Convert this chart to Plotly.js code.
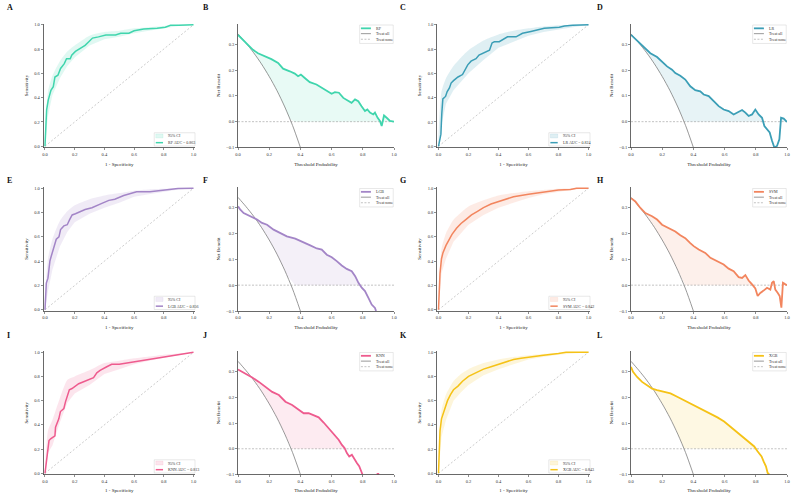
<!DOCTYPE html>
<html><head><meta charset="utf-8">
<script src="https://cdn.plot.ly/plotly-3.0.1.min.js"></script>
<style>html,body{margin:0;padding:0;background:#fff;}#chart{width:794px;height:493px;}</style>
</head><body><div id="chart"></div>
<script>
// ---------- data ----------
const modelNames = ['RF','LR','LGB','SVM','KNN','XGB'];
const aucValues = ['0.863','0.824','0.856','0.842','0.813','0.843'];
const panelLetters = ['A','B','C','D','E','F','G','H','I','J','K','L'];
const modelColors = ['#40D5AD','#3B9EB6','#A385C7','#F2855E','#EE5B8E','#F5C216'];

// ROC curves
const rfFpr = [0,0.004,0.011,0.022,0.03,0.04,0.056,0.06,0.067,0.087,0.105,0.13,0.145,0.17,0.18,0.205,0.24,0.27,0.295,0.32,0.36,0.41,0.475,0.51,0.565,0.6,0.665,0.755,0.81,0.845,0.9,1];
const rfTpr = [0,0.10,0.30,0.38,0.41,0.46,0.49,0.54,0.57,0.585,0.64,0.68,0.72,0.72,0.75,0.78,0.81,0.83,0.86,0.89,0.90,0.915,0.915,0.93,0.93,0.95,0.965,0.97,0.98,0.995,0.995,1];
const lrFpr = [0,0.007,0.016,0.022,0.029,0.047,0.058,0.073,0.084,0.1,0.13,0.16,0.18,0.195,0.217,0.25,0.27,0.306,0.34,0.357,0.372,0.405,0.43,0.46,0.517,0.56,0.616,0.67,0.705,0.805,0.84,0.894,1];
const lrTpr = [0,0.05,0.10,0.27,0.39,0.41,0.45,0.48,0.52,0.54,0.57,0.59,0.63,0.67,0.70,0.72,0.75,0.77,0.79,0.85,0.86,0.86,0.88,0.90,0.90,0.93,0.945,0.96,0.97,0.98,0.99,0.995,1];
const lgbFpr = [0,0.004,0.009,0.02,0.027,0.033,0.042,0.053,0.065,0.076,0.094,0.105,0.127,0.15,0.165,0.183,0.205,0.24,0.27,0.316,0.35,0.383,0.43,0.47,0.53,0.58,0.617,0.706,0.817,0.895,1];
const lgbTpr = [0,0.12,0.22,0.26,0.34,0.40,0.44,0.49,0.53,0.58,0.60,0.66,0.69,0.70,0.74,0.78,0.79,0.81,0.825,0.84,0.855,0.875,0.90,0.91,0.94,0.96,0.97,0.97,0.985,0.997,1];
const svmFpr = [0,0.005,0.01,0.02,0.03,0.05,0.07,0.09,0.12,0.15,0.18,0.22,0.26,0.3,0.35,0.4,0.45,0.5,0.6,0.7,0.8,0.88,0.92,1];
const svmTpr = [0,0.15,0.30,0.42,0.47,0.53,0.58,0.62,0.67,0.71,0.74,0.78,0.81,0.84,0.87,0.89,0.91,0.93,0.95,0.97,0.985,0.99,1,1];
const knnFpr = [0,0.027,0.038,0.056,0.067,0.071,0.082,0.093,0.104,0.127,0.138,0.149,0.164,0.182,0.204,0.227,0.26,0.304,0.327,0.349,0.371,0.416,0.449,0.5,1];
const knnTpr = [0,0.27,0.285,0.30,0.31,0.38,0.41,0.45,0.51,0.535,0.59,0.63,0.69,0.70,0.72,0.74,0.756,0.775,0.79,0.83,0.85,0.88,0.90,0.90,1];
const xgbFpr = [0,0.005,0.01,0.02,0.04,0.06,0.08,0.1,0.13,0.16,0.2,0.25,0.3,0.35,0.4,0.45,0.5,0.55,0.6,0.7,0.8,0.85,1];
const xgbTpr = [0,0.2,0.35,0.45,0.53,0.6,0.65,0.69,0.72,0.76,0.8,0.83,0.86,0.88,0.9,0.92,0.94,0.95,0.96,0.975,0.99,1,1];

// 95% CI bands (on a common FPR grid)
const ciFpr = [0,0.02,0.05,0.1,0.15,0.2,0.3,0.4,0.5,0.6,0.7,0.8,0.9,1.0];
const rfCiLow  = [0,0.25,0.42,0.56,0.66,0.73,0.83,0.88,0.90,0.93,0.95,0.97,0.99,1];
const rfCiHigh = [0.1,0.45,0.58,0.70,0.78,0.83,0.91,0.94,0.95,0.97,0.98,0.99,1,1];
const lrCiLow  = [0,0.18,0.35,0.46,0.53,0.60,0.71,0.81,0.86,0.91,0.94,0.96,0.98,1];
const lrCiHigh = [0.1,0.45,0.56,0.66,0.73,0.79,0.87,0.92,0.95,0.97,0.985,0.995,1,1];
const lgbCiLow  = [0,0.15,0.33,0.52,0.64,0.72,0.79,0.84,0.88,0.93,0.95,0.97,0.99,1];
const lgbCiHigh = [0.1,0.42,0.58,0.73,0.81,0.86,0.91,0.94,0.96,0.98,0.99,0.995,1,1];
const svmCiLow  = [0,0.3,0.42,0.56,0.63,0.70,0.78,0.84,0.88,0.92,0.95,0.97,0.99,1];
const svmCiHigh = [0.1,0.5,0.63,0.74,0.80,0.85,0.90,0.94,0.96,0.975,0.985,0.995,1,1];
const knnCiLow  = [0,0.17,0.23,0.42,0.58,0.66,0.73,0.82,0.86,0.90,0.93,0.955,0.98,1];
const knnCiHigh = [0.05,0.35,0.44,0.62,0.77,0.80,0.85,0.91,0.93,0.95,0.965,0.98,0.99,1];
const xgbCiLow  = [0,0.3,0.44,0.6,0.67,0.73,0.81,0.86,0.9,0.94,0.96,0.98,0.99,1];
const xgbCiHigh = [0.1,0.52,0.65,0.76,0.82,0.86,0.91,0.94,0.96,0.975,0.985,0.995,1,1];

// Decision curves
const rfThr = [0,0.021,0.054,0.096,0.128,0.171,0.214,0.257,0.289,0.332,0.364,0.385,0.403,0.428,0.46,0.503,0.535,0.567,0.6,0.621,0.647,0.675,0.707,0.728,0.75,0.771,0.792,0.814,0.829,0.846,0.867,0.878,0.895,0.91,0.921,0.936,0.953,0.974,1];
const rfNb  = [0.336,0.323,0.304,0.278,0.265,0.255,0.242,0.227,0.205,0.195,0.186,0.176,0.182,0.169,0.153,0.144,0.131,0.118,0.108,0.114,0.112,0.092,0.079,0.073,0.086,0.079,0.060,0.041,0.047,0.035,0.028,0.035,0.015,0.003,-0.017,0.024,0.015,0.003,0];
const lrThr = [0,0.038,0.081,0.124,0.167,0.199,0.231,0.263,0.284,0.316,0.348,0.38,0.412,0.444,0.466,0.498,0.53,0.562,0.594,0.626,0.658,0.69,0.712,0.733,0.754,0.776,0.797,0.818,0.84,0.855,0.872,0.889,0.904,0.919,0.936,0.951,0.962,0.979,1];
const lrNb  = [0.336,0.314,0.291,0.265,0.25,0.233,0.214,0.201,0.188,0.178,0.163,0.137,0.122,0.117,0.105,0.099,0.079,0.06,0.047,0.041,0.028,0.037,0.045,0.035,0.022,0.028,0.047,0.028,0.015,-0.017,-0.032,-0.042,-0.074,-0.1,-0.094,-0.068,0.015,0.012,-0.001];
const lgbThr = [0,0.015,0.036,0.079,0.122,0.154,0.186,0.228,0.271,0.313,0.367,0.42,0.463,0.505,0.537,0.569,0.601,0.633,0.665,0.697,0.729,0.751,0.772,0.793,0.814,0.836,0.857,0.878,0.885];
const lgbNb  = [0.305,0.292,0.279,0.267,0.254,0.241,0.234,0.215,0.202,0.189,0.18,0.167,0.154,0.142,0.138,0.118,0.108,0.093,0.076,0.063,0.054,0.035,0.009,-0.01,-0.023,-0.049,-0.075,-0.088,-0.1];
const svmThr = [0,0.028,0.06,0.092,0.135,0.167,0.199,0.241,0.284,0.316,0.348,0.38,0.402,0.434,0.476,0.509,0.551,0.594,0.626,0.658,0.69,0.712,0.733,0.754,0.776,0.797,0.812,0.829,0.85,0.872,0.893,0.904,0.915,0.925,0.94,0.953,0.964,0.974,0.985,1];
const svmNb  = [0.337,0.324,0.299,0.279,0.267,0.254,0.234,0.221,0.208,0.193,0.182,0.163,0.151,0.138,0.125,0.106,0.093,0.08,0.064,0.054,0.031,0.028,0.039,0.018,0.003,-0.013,-0.042,-0.03,-0.021,-0.01,-0.017,0.009,0.015,-0.017,-0.029,-0.042,-0.087,0.009,0.005,0];
const knnThr = [0,0.049,0.091,0.134,0.177,0.219,0.262,0.304,0.347,0.389,0.421,0.453,0.485,0.517,0.549,0.581,0.613,0.645,0.666,0.683,0.698,0.713,0.73,0.747,0.762,0.777,0.787,0.798,null,0.889,0.905];
const knnNb  = [0.308,0.292,0.277,0.26,0.241,0.221,0.209,0.183,0.17,0.151,0.138,0.138,0.129,0.122,0.102,0.08,0.054,0.035,0.015,0.003,-0.017,-0.03,-0.023,-0.042,-0.055,-0.068,-0.088,-0.1,null,-0.098,-0.098];
const xgbThr = [0,0.013,0.039,0.071,0.103,0.135,0.167,0.21,0.253,0.296,0.339,0.382,0.425,0.468,0.511,0.554,0.597,0.629,0.661,0.693,0.725,0.758,0.79,0.811,0.837,0.85,0.865,0.876,0.886];
const xgbNb  = [0.318,0.299,0.279,0.26,0.247,0.234,0.228,0.221,0.215,0.202,0.189,0.176,0.163,0.151,0.138,0.122,0.106,0.09,0.073,0.057,0.041,0.026,0.009,-0.01,-0.03,-0.049,-0.068,-0.094,-0.1];

// Reference strategies
const treatAllThr = [0,0.05,0.1,0.15,0.2,0.25,0.3,0.35,0.4];
const treatAllNb  = [0.34,0.305,0.267,0.224,0.175,0.12,0.057,-0.015,-0.1];
const treatNoneThr = [0,1];
const treatNoneNb  = [0,0];
const chanceX = [0,1];
const chanceY = [0,1];

const rocTicks = [0,0.2,0.4,0.6,0.8,1.0];
const dcaXTicks = [0,0.2,0.4,0.6,0.8,1.0];
const dcaYTicks = [-0.1,0,0.1,0.2,0.3];

// ---------- build ----------
const models = [
  {fpr:rfFpr,tpr:rfTpr,lo:rfCiLow,hi:rfCiHigh,thr:rfThr,nb:rfNb},
  {fpr:lrFpr,tpr:lrTpr,lo:lrCiLow,hi:lrCiHigh,thr:lrThr,nb:lrNb},
  {fpr:lgbFpr,tpr:lgbTpr,lo:lgbCiLow,hi:lgbCiHigh,thr:lgbThr,nb:lgbNb},
  {fpr:svmFpr,tpr:svmTpr,lo:svmCiLow,hi:svmCiHigh,thr:svmThr,nb:svmNb},
  {fpr:knnFpr,tpr:knnTpr,lo:knnCiLow,hi:knnCiHigh,thr:knnThr,nb:knnNb},
  {fpr:xgbFpr,tpr:xgbTpr,lo:xgbCiLow,hi:xgbCiHigh,thr:xgbThr,nb:xgbNb}
];

const W = 794, H = 493;
const colPx = [[43.5,195],[238,394],[437,590],[631,787]];
const rowPx = [[23.5,147.5],[187,311],[351,474.5]];
const letterX = [5,200.5,397.5,595];
const letterY = [7,180,335.5];
const serif = 'Liberation Serif, Times New Roman, serif';

function rgba(hex,a){const n=parseInt(hex.slice(1),16);return 'rgba('+((n>>16)&255)+','+((n>>8)&255)+','+(n&255)+','+a+')';}
function interpTreatAll(t){
  if(t>=treatAllThr[treatAllThr.length-1]) return treatAllNb[treatAllNb.length-1];
  for(let k=0;k<treatAllThr.length-1;k++){
    if(t>=treatAllThr[k] && t<=treatAllThr[k+1]){
      const f=(t-treatAllThr[k])/(treatAllThr[k+1]-treatAllThr[k]);
      return treatAllNb[k]+f*(treatAllNb[k+1]-treatAllNb[k]);
    }
  }
  return treatAllNb[0];
}

const layout = {width:W,height:H,margin:{l:0,r:0,t:0,b:0},paper_bgcolor:'#ffffff',plot_bgcolor:'rgba(0,0,0,0)',
  showlegend:false,shapes:[],annotations:[],font:{family:serif}};
const traces = [];

function axisBase(){
  return {showline:true,linecolor:'#444',linewidth:0.8,ticks:'outside',ticklen:2,tickwidth:0.6,tickcolor:'#444',
    showgrid:false,zeroline:false,fixedrange:true,tickformat:'.1f',
    tickfont:{family:serif,size:4.5,color:'#333'}};
}
function refs(n){return {x:n===1?'x':'x'+n, y:n===1?'y':'y'+n};}

function addLegend(n, box, swX, textX, items){
  const r = refs(n);
  const xr = r.x+' domain', yr = r.y+' domain';
  layout.shapes.push({type:'rect',xref:xr,yref:yr,x0:box[0],x1:box[1],y0:box[2],y1:box[3],
    fillcolor:'rgba(255,255,255,0.9)',line:{color:'#d0d0d0',width:0.5},layer:'above'});
  items.forEach(it=>{
    if(it.type==='fill'){
      layout.shapes.push({type:'rect',xref:xr,yref:yr,x0:swX[0],x1:swX[1],y0:it.y-0.016,y1:it.y+0.016,
        fillcolor:it.color,line:{color:it.edge,width:0.4},layer:'above'});
    } else {
      layout.shapes.push({type:'line',xref:xr,yref:yr,x0:swX[0],x1:swX[1],y0:it.y,y1:it.y,
        line:{color:it.color,width:it.width,dash:it.dash||'solid'},layer:'above'});
    }
    layout.annotations.push({xref:xr,yref:yr,x:textX,y:it.y,text:it.text,showarrow:false,xanchor:'left',yanchor:'middle',
      font:{family:serif,size:4,color:'#333'}});
  });
}

models.forEach((m,i)=>{
  const row=Math.floor(i/2), side=i%2;
  const color = modelColors[i];
  const rocN = 2*i+1, dcaN = 2*i+2;
  const rocCol = side*2, dcaCol = side*2+1;
  const yDom = [1-rowPx[row][1]/H, 1-rowPx[row][0]/H];

  // ROC axes
  const rR = refs(rocN);
  const rx = axisBase(), ry = axisBase();
  rx.domain=[colPx[rocCol][0]/W, colPx[rocCol][1]/W]; rx.anchor=rR.y; rx.range=[-0.01,1.01];
  rx.tickvals=rocTicks; rx.title={text:'1 - Specificity',font:{family:serif,size:5,color:'#222'},standoff:6};
  ry.domain=yDom; ry.anchor=rR.x; ry.range=[-0.01,1.01];
  ry.tickvals=rocTicks; ry.title={text:'Sensitivity',font:{family:serif,size:5,color:'#222'},standoff:5};
  layout[rocN===1?'xaxis':'xaxis'+rocN]=rx;
  layout[rocN===1?'yaxis':'yaxis'+rocN]=ry;

  traces.push({type:'scatter',mode:'lines',x:chanceX,y:chanceY,xaxis:rR.x,yaxis:rR.y,
    line:{color:'#a8a8a8',width:0.6,dash:'2px,2px'},hoverinfo:'skip'});
  traces.push({type:'scatter',mode:'lines',x:ciFpr,y:m.lo,xaxis:rR.x,yaxis:rR.y,line:{width:0,color:color},hoverinfo:'skip'});
  traces.push({type:'scatter',mode:'lines',x:ciFpr,y:m.hi,xaxis:rR.x,yaxis:rR.y,line:{width:0,color:color,shape:'spline',smoothing:0.6},
    fill:'tonexty',fillcolor:rgba(color,0.16),name:'95% CI',hoverinfo:'skip'});
  traces.push({type:'scatter',mode:'lines',x:m.fpr,y:m.tpr,xaxis:rR.x,yaxis:rR.y,line:{color:color,width:1.5},
    name:modelNames[i]+' AUC = '+aucValues[i]});

  addLegend(rocN,[0.731,1.0,0.012,0.119],[0.741,0.789],0.81,[
    {type:'fill',y:0.093,color:rgba(color,0.16),edge:rgba(color,0.25),text:'95% CI'},
    {type:'line',y:0.039,color:color,width:1.5,text:modelNames[i]+' AUC = '+aucValues[i]}
  ]);

  // DCA axes
  const dR = refs(dcaN);
  const dx = axisBase(), dy = axisBase();
  dx.domain=[colPx[dcaCol][0]/W, colPx[dcaCol][1]/W]; dx.anchor=dR.y; dx.range=[0,1];
  dx.tickvals=dcaXTicks; dx.title={text:'Threshold Probability',font:{family:serif,size:5,color:'#222'},standoff:6};
  dy.domain=yDom; dy.anchor=dR.x; dy.range=[-0.1,0.38];
  dy.tickvals=dcaYTicks; dy.title={text:'Net Benefit',font:{family:serif,size:5,color:'#222'},standoff:5};
  layout[dcaN===1?'xaxis':'xaxis'+dcaN]=dx;
  layout[dcaN===1?'yaxis':'yaxis'+dcaN]=dy;

  // shaded net-benefit area above max(treat all, treat none)
  const fx=[], fBase=[], fTop=[];
  m.thr.forEach((t,k)=>{
    if(t===null || m.nb[k]===null) return;
    const base=Math.max(interpTreatAll(t),0);
    fx.push(t); fBase.push(base); fTop.push(Math.max(m.nb[k],base));
  });
  traces.push({type:'scatter',mode:'lines',x:fx,y:fBase,xaxis:dR.x,yaxis:dR.y,line:{width:0,color:color},hoverinfo:'skip'});
  traces.push({type:'scatter',mode:'lines',x:fx,y:fTop,xaxis:dR.x,yaxis:dR.y,line:{width:0,color:color},
    fill:'tonexty',fillcolor:rgba(color,0.12),hoverinfo:'skip'});

  traces.push({type:'scatter',mode:'lines',x:treatNoneThr,y:treatNoneNb,xaxis:dR.x,yaxis:dR.y,
    line:{color:'#9a9a9a',width:0.6,dash:'2px,1.5px'},name:'Treat none'});
  traces.push({type:'scatter',mode:'lines',x:treatAllThr,y:treatAllNb,xaxis:dR.x,yaxis:dR.y,
    line:{color:'#7f7f7f',width:0.8,shape:'spline',smoothing:0.8},name:'Treat all'});
  traces.push({type:'scatter',mode:'lines',x:m.thr,y:m.nb,xaxis:dR.x,yaxis:dR.y,
    line:{color:color,width:1.8},connectgaps:false,name:modelNames[i]});

  addLegend(dcaN,[0.78,0.995,0.839,0.988],[0.788,0.852],0.87,[
    {type:'line',y:0.961,color:color,width:1.8,text:modelNames[i]},
    {type:'line',y:0.918,color:'#7f7f7f',width:0.8,text:'Treat all'},
    {type:'line',y:0.873,color:'#9a9a9a',width:0.6,dash:'2px,1.5px',text:'Treat none'}
  ]);

  // panel letters
  [[rocCol,2*i],[dcaCol,2*i+1]].forEach(([c,li])=>{
    layout.annotations.push({xref:'paper',yref:'paper',x:letterX[c]/W,y:1-letterY[row]/H,text:'<b>'+panelLetters[li]+'</b>',
      showarrow:false,xanchor:'left',yanchor:'middle',font:{family:serif,size:8,color:'#111'}});
  });
});

Plotly.newPlot('chart',traces,layout,{displayModeBar:false,staticPlot:true});
</script>
</body></html>
